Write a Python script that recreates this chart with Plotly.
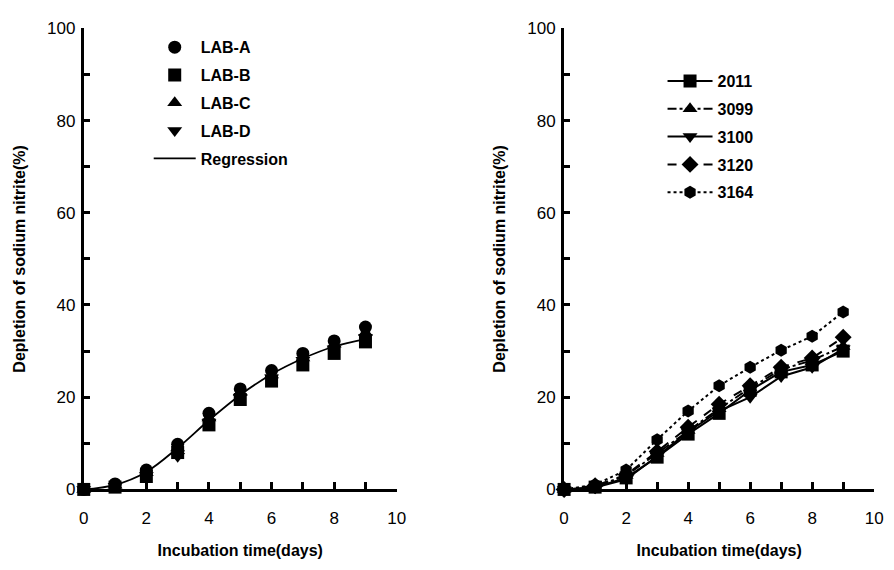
import plotly.graph_objects as go

days = [0, 1, 2, 3, 4, 5, 6, 7, 8, 9]

# Left panel
lab_names = ["LAB-A", "LAB-B", "LAB-C", "LAB-D"]
lab_a = [0, 1.2, 4.2, 9.8, 16.5, 21.8, 25.8, 29.5, 32.2, 35.2]
lab_b = [0, 0.5, 2.8, 8.0, 14.0, 19.5, 23.5, 27.0, 29.5, 32.0]
lab_c = [0, 0.9, 3.6, 9.0, 15.5, 21.0, 24.8, 28.5, 31.5, 34.0]
lab_d = [0, 0.7, 3.0, 7.2, 14.5, 20.0, 24.2, 28.0, 30.5, 33.0]
regression = [0, 1.0, 3.8, 9.0, 15.0, 20.5, 25.0, 28.4, 31.0, 32.6]

# Right panel
strain_names = ["2011", "3099", "3100", "3120", "3164"]
s2011 = [0, 0.5, 2.5, 7.0, 12.0, 16.5, 21.5, 25.5, 27.0, 30.0]
s3099 = [0, 0.6, 3.0, 7.8, 12.8, 17.5, 22.0, 26.0, 28.0, 31.0]
s3100 = [0, 0.4, 2.2, 7.2, 12.5, 17.0, 20.0, 24.5, 26.5, 30.5]
s3120 = [0, 0.8, 3.2, 8.2, 13.5, 18.5, 22.5, 26.5, 28.5, 33.0]
s3164 = [0, 1.0, 4.2, 10.8, 17.0, 22.5, 26.5, 30.2, 33.2, 38.5]

x_ticks = [0, 2, 4, 6, 8, 10]
y_ticks = [0, 20, 40, 60, 80, 100]

BOLD = "Liberation Sans Narrow, Arial Narrow, Liberation Sans, Arial"
REG = "Liberation Sans, Arial"

fig = go.Figure()

lab_symbols = ["circle", "square", "triangle-up", "triangle-down"]
for name, vals, sym in zip(lab_names, [lab_a, lab_b, lab_c, lab_d], lab_symbols):
    fig.add_trace(go.Scatter(
        x=days, y=vals, mode="markers", name=name,
        marker=dict(symbol=sym, size=13, color="black"),
        xaxis="x", yaxis="y", legend="legend", legendgroup=name,
        cliponaxis=False,
    ))
fig.add_trace(go.Scatter(
    x=days, y=regression, mode="lines", name="Regression",
    line=dict(color="black", width=1.8, shape="spline"),
    xaxis="x", yaxis="y", legend="legend", legendgroup="Regression",
    cliponaxis=False,
))

strain_symbols = ["square", "triangle-up", "triangle-down", "diamond", "hexagon"]
strain_dashes = ["solid", "dashdot", "solid", "dash", "dot"]
for name, vals, sym, dash in zip(strain_names, [s2011, s3099, s3100, s3120, s3164],
                                 strain_symbols, strain_dashes):
    fig.add_trace(go.Scatter(
        x=days, y=vals, mode="lines+markers", name=name,
        marker=dict(symbol=sym, size=13, color="black"),
        line=dict(color="black", width=2, dash=dash),
        xaxis="x2", yaxis="y2", legend="legend2", legendgroup=name,
        cliponaxis=False,
    ))

W, H = 894, 570
left_dom = [80 / W, 398 / W]
right_dom = [568 / W, 883 / W]
y_dom = [(H - 497) / H, (H - 20) / H]

def xaxis(dom, anchor):
    return dict(
        domain=dom, anchor=anchor, range=[0, 10],
        tickvals=x_ticks, ticks="inside", ticklen=7, tickwidth=2.5, tickcolor="black",
        minor=dict(dtick=1, ticks="inside", ticklen=7, tickwidth=2.5, tickcolor="black"),
        showline=True, linewidth=3, linecolor="black", showgrid=False, zeroline=False,
        tickfont=dict(family=REG, size=17, color="black"),
        ticklabelstandoff=11,
        title=dict(text="Incubation time(days)",
                   font=dict(family=BOLD, size=16, color="black", weight="bold"), standoff=18),
    )

def yaxis(dom, anchor):
    return dict(
        domain=dom, anchor=anchor, range=[0, 100],
        tickvals=y_ticks, ticks="inside", ticklen=6, tickwidth=2.5, tickcolor="black",
        minor=dict(dtick=10, ticks="inside", ticklen=6, tickwidth=2.5, tickcolor="black"),
        showline=True, linewidth=3, linecolor="black", showgrid=False, zeroline=False,
        tickfont=dict(family=REG, size=17, color="black"),
        ticklabelstandoff=2,
        title=dict(text="Depletion of sodium nitrite(%)",
                   font=dict(family=BOLD, size=16, color="black", weight="bold"), standoff=18),
    )

fig.update_layout(
    width=W, height=H,
    margin=dict(l=0, r=0, t=0, b=0),
    paper_bgcolor="white", plot_bgcolor="white",
    xaxis=xaxis(left_dom, "y"),
    yaxis=yaxis(y_dom, "x"),
    xaxis2=xaxis(right_dom, "y2"),
    yaxis2=yaxis(y_dom, "x2"),
    legend=dict(x=146 / W, y=1 - 22 / H, xanchor="left", yanchor="top",
                bgcolor="rgba(0,0,0,0)", tracegroupgap=4, itemwidth=42,
                font=dict(family=BOLD, size=16, color="black", weight="bold")),
    legend2=dict(x=668 / W, y=1 - 57 / H, xanchor="left", yanchor="top",
                 bgcolor="rgba(0,0,0,0)", tracegroupgap=4, itemwidth=45,
                 font=dict(family=BOLD, size=16, color="black", weight="bold")),
    showlegend=True,
)

fig.write_html("out.html")
